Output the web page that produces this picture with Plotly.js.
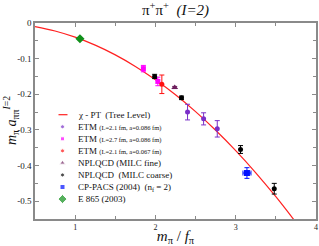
<!DOCTYPE html>
<html><head><meta charset="utf-8">
<script src="https://cdn.plot.ly/plotly-3.0.1.min.js"></script>
<style>html,body{margin:0;padding:0;background:#fff}#chart{width:319px;height:246px}</style>
</head><body><div id="chart"></div>
<script>
// Tree-level chPT curve
const chptX = [0.5,0.75,1.0,1.25,1.5,1.75,2.0,2.25,2.5,2.75,3.0,3.25,3.5,3.75];
const chptY = [-0.0099,-0.0224,-0.0398,-0.0622,-0.0895,-0.1219,-0.1592,-0.2014,-0.2487,-0.3009,-0.3581,-0.4203,-0.4875,-0.5596];

// ETM (L=2.1 fm, a=0.086 fm)
const etm1X = [2.40, 2.60, 2.77];
const etm1Y = [-0.250, -0.269, -0.297];
const etm1E = [0.022, 0.017, 0.023];
// ETM (L=2.7 fm, a=0.086 fm)
const etm2X = [1.85, 2.03];
const etm2Y = [-0.128, -0.164];
const etm2E = [0.009, 0.012];
// ETM (L=2.1 fm, a=0.067 fm)
const etm3X = [2.08];
const etm3Y = [-0.172];
const etm3E = [0.026];
// NPLQCD (MILC fine)
const fineX = [2.24];
const fineY = [-0.181];
const fineE = [0.003];
// NPLQCD (MILC coarse)
const coarseX = [1.99, 2.325, 3.06, 3.48];
const coarseY = [-0.150, -0.210, -0.355, -0.465];
const coarseE = [0.006, 0.005, 0.011, 0.015];
// CP-PACS (2004)
const cpX = [3.14];
const cpY = [-0.421];
const cpE = [0.015];
const cpXE = [0.05];
// E 865 (2003)
const e865X = [1.06];
const e865Y = [-0.044];
const e865E = [0.003];

const xTickVals = [1, 2, 3, 4];
const xTickText = ['1', '2', '3', '4'];
const yTickVals = [0, -0.1, -0.2, -0.3, -0.4, -0.5];
const yTickText = ['0', '-0.1', '-0.2', '-0.3', '-0.4', '-0.5'];

const FONT = '"Liberation Serif", "Times New Roman", Times, "DejaVu Serif", serif';
const small = s => '<span style="font-size:6.5px">' + s + '</span>';
const legendLabels = [
  'χ - PT  (Tree Level)',
  'ETM ' + small('(L=2.1 fm, a=0.086 fm)'),
  'ETM ' + small('(L=2.7 fm, a=0.086 fm)'),
  'ETM ' + small('(L=2.1 fm, a=0.067 fm)'),
  'NPLQCD (MILC fine)',
  'NPLQCD  (MILC coarse)',
  'CP-PACS (2004)  (n<sub>f</sub> = 2)',
  'E 865 (2003)'
];

const cPurple = '#7a2fc8', cMag = '#ff00ff', cRed = '#ff1010', cFine = '#6e1f5e',
      cBlack = '#000000', cBlue = '#0010ff', cGreen = '#10901a';

function pts(x, y, e, color, symbol, size, xe) {
  const t = {x: x, y: y, type: 'scatter', mode: 'markers',
    marker: {color: color, symbol: symbol, size: size},
    error_y: {type: 'data', array: e, visible: true, color: color, thickness: 1, width: 2.5},
    showlegend: false, cliponaxis: false};
  if (xe) t.error_x = {type: 'data', array: xe, visible: true, color: color, thickness: 1, width: 2.5};
  return t;
}

const traces = [
  {x: chptX, y: chptY, type: 'scatter', mode: 'lines', line: {color: '#ff2020', width: 1.2, shape: 'spline'}, showlegend: false},
  pts(e865X, e865Y, e865E, cGreen, 'diamond', 7),
  pts(etm2X, etm2Y, etm2E, cMag, 'square', 5),
  pts(etm3X, etm3Y, etm3E, cRed, 'circle', 5),
  pts(fineX, fineY, fineE, cFine, 'triangle-up', 6),
  pts(coarseX, coarseY, coarseE, cBlack, 'circle', 5),
  pts(etm1X, etm1Y, etm1E, cPurple, 'circle', 5),
  pts(cpX, cpY, cpE, cBlue, 'square', 6, cpXE)
];

// hand-made legend, drawn on a pixel-unit overlay axis pair
const rowY = legendLabels.map((_, i) => 114.7 + i * 12.05);
traces.push({x: [58.5, 67.5], y: [rowY[0], rowY[0]], xaxis: 'x2', yaxis: 'y2', type: 'scatter', mode: 'lines',
  line: {color: '#ff2020', width: 1.2}, showlegend: false, hoverinfo: 'skip'});
traces.push({x: rowY.slice(1).map(() => 62.5), y: rowY.slice(1), xaxis: 'x2', yaxis: 'y2', type: 'scatter', mode: 'markers',
  marker: {color: [cPurple, cMag, cRed, cFine, cBlack, cBlue, cGreen],
           symbol: ['circle', 'square', 'circle', 'triangle-up', 'circle', 'square', 'diamond'],
           size: [4, 4, 4, 5, 4, 5, 7]},
  showlegend: false, hoverinfo: 'skip', cliponaxis: false});

const annotations = legendLabels.map((t, i) => ({
  text: t, x: 76, y: rowY[i], xref: 'x2', yref: 'y2', xanchor: 'left', yanchor: 'middle',
  showarrow: false, font: {family: FONT, size: 9, color: '#111'}
}));
annotations.push({
  text: '<i>m</i><sub>π</sub> <i>a</i><sub>ππ</sub><sup><i>I</i>=2</sup>',
  xref: 'paper', yref: 'paper', x: 0, xshift: -24, y: 0.5, textangle: -90,
  showarrow: false, font: {family: FONT, size: 14, color: '#111'}, xanchor: 'center', yanchor: 'middle'
});

const axisCommon = {
  showline: true, linecolor: '#8a8a8a', linewidth: 1.6, mirror: 'allticks',
  ticks: 'inside', ticklen: 4, tickcolor: '#8a8a8a', tickwidth: 1,
  showgrid: false, zeroline: false, fixedrange: true,
  tickfont: {family: FONT, size: 9, color: '#222'}
};

const layout = {
  width: 319, height: 246,
  margin: {l: 35, r: 3, t: 23, b: 27, pad: 0},
  paper_bgcolor: '#fff', plot_bgcolor: '#fff',
  font: {family: FONT, color: '#111'},
  title: {text: 'π<sup>+</sup>π<sup>+</sup>  <i>(I=2)</i>', font: {family: FONT, size: 15, color: '#111'},
          x: 0.5, xref: 'paper', xanchor: 'center', y: 1 - 10 / 246, yref: 'container', yanchor: 'middle'},
  xaxis: Object.assign({}, axisCommon, {
    range: [0.5, 4], tickvals: xTickVals, ticktext: xTickText, tickfont: {family: FONT, size: 8, color: '#222'},
    minor: {dtick: 0.5, tick0: 0, ticks: 'inside', ticklen: 3, tickcolor: '#8a8a8a'},
    title: {text: '<i>m</i><sub>π</sub> / <i>f</i><sub>π</sub>', font: {family: FONT, size: 15, color: '#111'}, standoff: 1}
  }),
  yaxis: Object.assign({}, axisCommon, {
    range: [-0.55, 0], tickvals: yTickVals, ticktext: yTickText,
    minor: {dtick: 0.05, tick0: 0, ticks: 'inside', ticklen: 3, tickcolor: '#8a8a8a'}
  }),
  xaxis2: {overlaying: 'x', anchor: 'y2', range: [35, 316], visible: false, fixedrange: true},
  yaxis2: {overlaying: 'y', anchor: 'x2', range: [219, 23], visible: false, fixedrange: true},
  annotations: annotations,
  showlegend: false
};

Plotly.newPlot('chart', traces, layout, {displayModeBar: false, staticPlot: true});
</script></body></html>
